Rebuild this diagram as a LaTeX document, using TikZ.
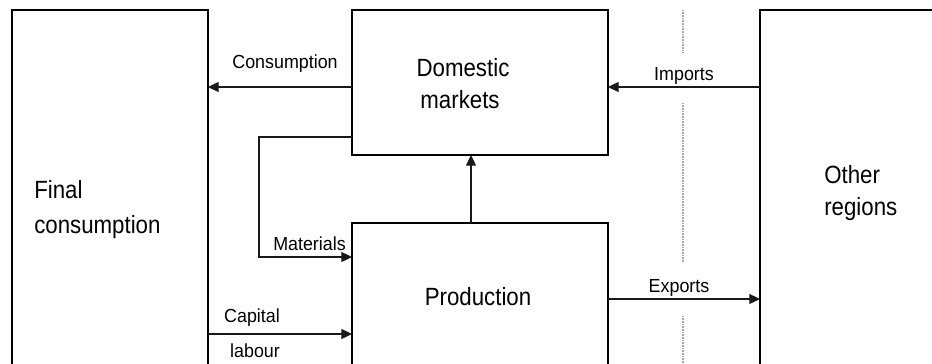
\documentclass[tikz,border=0pt]{standalone}
\usepackage{fontspec}
\setmainfont{Liberation Sans}
\usetikzlibrary{arrows.meta,fit}
\newcommand\bigvstretch[1]{\scalebox{1}[1.12]{#1}}
\newcommand\smallvstretch[1]{\scalebox{1}[1.06]{#1}}
\tikzset{
  box/.style={draw=black, line width=0.9pt, inner sep=0pt, outer sep=0pt, fill=none},
  arr/.style={draw=black!90, line width=0.85pt, -{Triangle[length=8pt,width=7.5pt]}},
  boxtext/.style={font=\fontsize{16.7pt}{20pt}\selectfont, inner sep=0pt, anchor=base},
  boxtextw/.style={boxtext, anchor=base west},
  lab/.style={font=\fontsize{13.4pt}{16pt}\selectfont, inner sep=0pt, anchor=base},
  border/.style={draw=gray!70, line width=0.8pt, dash pattern=on 0.6pt off 0.6pt}
}
\begin{document}
\begin{tikzpicture}[x=0.75pt,y=-0.75pt]
\useasboundingbox (0,0) rectangle (932,364);
\clip (0,0) rectangle (932,364);
% boxes
\node[box, fit={(12,10) (208,390)}] (fc) {};
\node[box, fit={(352,10) (608,155)}] (dm) {};
\node[box, fit={(352,223) (608,390)}] (pr) {};
\node[box, fit={(760,10) (950,390)}] (or) {};
% box texts
\node[boxtextw] (t1) at (34,198) {\bigvstretch{Final}};
\node[boxtextw] (t2) at (34,233) {\bigvstretch{consumption}};
\node[boxtext] (t3) at (463,76) {\bigvstretch{Domestic}};
\node[boxtext] (t4) at (460,108) {\bigvstretch{markets}};
\node[boxtext] (t5) at (478,305) {\bigvstretch{Production}};
\node[boxtextw] (t6) at (824,183) {\bigvstretch{Other}};
\node[boxtextw] (t7) at (824,215) {\bigvstretch{regions}};
% border between regions
\draw[border] (683,10) -- (683,52);
\draw[border] (683,103) -- (683,263);
\draw[border] (683,316) -- (683,370);
% level coordinates
\coordinate (ycons) at (0,87);
\coordinate (ymat) at (0,137);
\coordinate (ymatin) at (0,257);
\coordinate (bend) at (259,200);
\coordinate (ycap) at (0,334);
\coordinate (yexp) at (0,299);
\coordinate (xv) at (471,0);
% connectors
\draw[arr] (dm.west |- ycons) -- (fc.east |- ycons);
\draw[arr] (or.west |- ycons) -- (dm.east |- ycons);
\draw[arr] (dm.west |- ymat) -| (bend) |- (pr.west |- ymatin);
\draw[arr] (fc.east |- ycap) -- (pr.west |- ycap);
\draw[arr] (pr.east |- yexp) -- (or.west |- yexp);
\draw[arr] (pr.north -| xv) -- (dm.south -| xv);
% labels
\node[lab] (l1) at (285,68) {\smallvstretch{Consumption}};
\node[lab] (l2) at (684,80) {\smallvstretch{Imports}};
\node[lab] (l3) at (679,292) {\smallvstretch{Exports}};
\node[lab] (l4) at (309.5,250) {\smallvstretch{Materials}};
\node[lab] (l5) at (252,322) {\smallvstretch{Capital}};
\node[lab] (l6) at (255,357) {\smallvstretch{labour}};
\end{tikzpicture}
\end{document}
